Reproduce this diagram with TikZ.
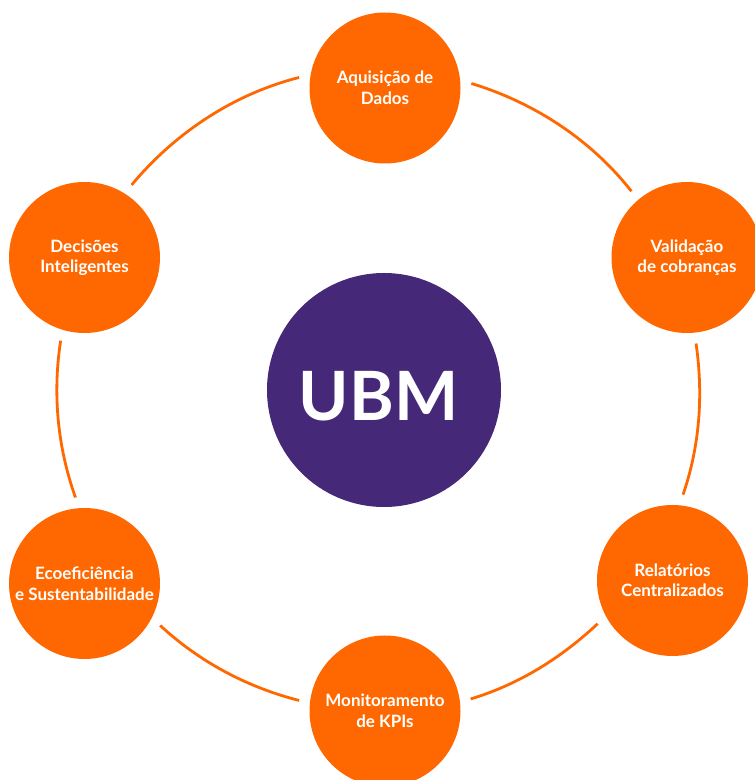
\documentclass[tikz,border=0pt]{standalone}
\usepackage{fontspec}
\setmainfont{Lato}
\definecolor{ubmorange}{RGB}{255,104,0}
\definecolor{ubmpurple}{RGB}{69,40,120}
\tikzset{
  stage/.style={circle,fill=ubmorange,minimum size=151pt,inner sep=0pt,outer sep=11pt,
    align=center,text=white,font=\fontsize{17}{20.5}\selectfont\bfseries},
  ring/.style={draw=ubmorange,line width=2.8pt,looseness=0.87},
}

\begin{document}
\begin{tikzpicture}[x=1pt,y=1pt]
\useasboundingbox (0,0) rectangle (755,780);
\clip (0,0) rectangle (755,780);
% centre
\node[circle,fill=ubmpurple,minimum size=234pt,inner sep=0pt] (ubm) at (384,390) {};
\node[text=white,font=\fontsize{68}{68}\selectfont\bfseries] (ubmtxt) at ([shift={(-5.5,-6)}]ubm.center) {UBM};
% stages
\node[stage] (t) at (385,692) {Aquisição de\\Dados};
\node[stage] (ur) at (687,522.5) {Validação\\de cobranças};
\node[stage] (lr) at (672.5,199.5) {Relatórios\\Centralizados};
\node[stage] (b) at (385,69) {Monitoramento\\de KPIs};
\node[stage] (ll) at (84.5,196.5) {Ecoeficiência\\e Sustentabilidade};
\node[stage] (ul) at (84.5,522.5) {Decisões\\Inteligentes};
% ring
\draw[ring] (ul.57.6) to[out=50.2,in=194.2] (t.173.6);
\draw[ring] (t.3.7) to[out=-16.9,in=128.1] (ur.130.4);
\draw[ring] (ur.-84) to[out=-81.7,in=71] (lr.83.7);
\draw[ring] (lr.210.5) to[out=223.2,in=16.75] (b.8.7);
\draw[ring] (b.173.8) to[out=165.75,in=-42.8] (ll.-29.5);
\draw[ring] (ll.96.3) to[out=109.6,in=261.2] (ul.-106.2);
\end{tikzpicture}
\end{document}
